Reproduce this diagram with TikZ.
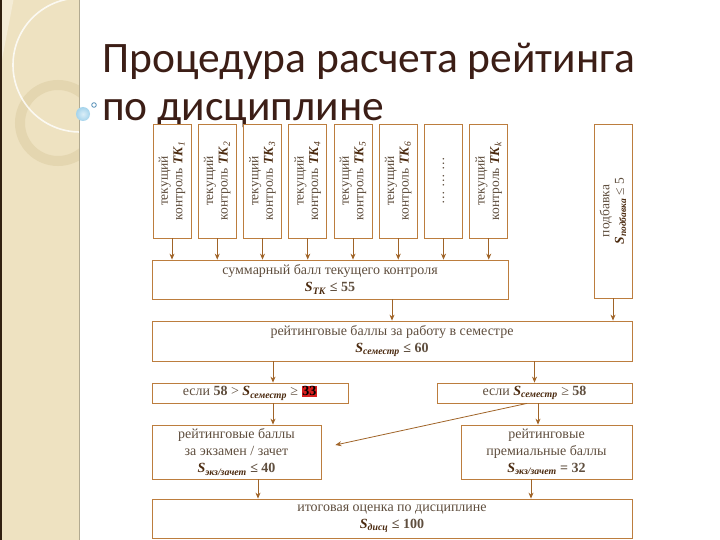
\documentclass[tikz,border=0pt]{standalone}
\usepackage{fontspec}
\setmainfont{Liberation Serif}
\newfontfamily\titlefont{Carlito}
\usetikzlibrary{arrows.meta,calc}
\definecolor{boxc}{RGB}{188,125,62}
\definecolor{arrc}{RGB}{160,100,40}
\definecolor{txtc}{RGB}{95,78,62}
\definecolor{sc}{RGB}{75,42,15}
\definecolor{redc}{RGB}{215,30,30}
\definecolor{panel}{RGB}{238,226,193}
\definecolor{panellight}{RGB}{244,236,214}
\definecolor{ringc}{RGB}{228,214,176}
\definecolor{titlec}{RGB}{60,30,22}
\definecolor{dotc}{RGB}{165,212,236}
\definecolor{dotline}{RGB}{80,140,180}
\newcommand\Sv[1]{{\color{sc}\textbf{\textit{S}}\textsubscript{\textbf{\textit{#1}}}}}
\newcommand\TKv[1]{{\color{sc}\textbf{\textit{TK}}\textsubscript{\textit{#1}}}}
\tikzset{
  box/.style={draw=boxc, line width=0.8pt, fill=white, inner sep=1pt, align=center,
    font=\fontsize{14}{17}\selectfont, text=txtc},
  vbox/.style={box, rotate=90, minimum width=114pt, minimum height=38pt,
    font=\fontsize{13.5}{14.5}\selectfont},
  arr/.style={draw=arrc, line width=0.8pt, -{Stealth[length=6pt,width=5pt]}}
}
\begin{document}
\begin{tikzpicture}[x=1pt,y=-1pt]
\useasboundingbox (0,0) rectangle (720,540);
\fill[white] (0,0) rectangle (720,540);
% left decorative panel
\begin{scope}
\clip (0,0) rectangle (79,540);
\fill[panel] (0,0) rectangle (79,540);
\fill[panellight] (0,0) -- (70,0) arc[start angle=105, end angle=165, radius=67] -- (0,70) -- cycle;
\draw[ringc, line width=10pt] (58,123) circle[radius=38];
\draw[white, opacity=0.8, line width=1.6pt] (80,65) circle[radius=67];
\end{scope}
\fill[black!75!brown] (0,0) rectangle (1.5,540);
\draw[black!25!panel, line width=1pt] (79,0) -- (79,540);
\shade[inner color=white!60!dotc, outer color=dotc] (83,114) circle[radius=7];
\draw[dotline, line width=0.8pt] (94,105) circle[radius=2.3];
% title
\node[anchor=base west, inner sep=0, font=\titlefont\fontsize{43.5}{43.5}\selectfont, text=titlec] (t1) at (102,73) {Процедура расчета рейтинга};
\node[anchor=base west, inner sep=0, font=\titlefont\fontsize{43.5}{43.5}\selectfont, text=titlec] (t2) at (102,121) {по дисциплине};
% top row
\node[vbox] (tk1) at (172,181) {текущий\\контроль \TKv{1}};
\node[vbox] (tk2) at (217.25,181) {текущий\\контроль \TKv{2}};
\node[vbox] (tk3) at (262.5,181) {текущий\\контроль \TKv{3}};
\node[vbox] (tk4) at (307.75,181) {текущий\\контроль \TKv{4}};
\node[vbox] (tk5) at (353,181) {текущий\\контроль \TKv{5}};
\node[vbox] (tk6) at (398.25,181) {текущий\\контроль \TKv{6}};
\node[vbox] (tkd) at (443.5,181) {… … …};
\node[vbox] (tkk) at (488.75,181) {текущий\\контроль \TKv{k}};
\node[vbox, minimum width=174pt] (podb) at (613,211) {подбавка\\\Sv{подбавка} ≤ 5};
% middle
\node[box, minimum width=356pt, minimum height=39pt] (sum) at (330,279.5) {суммарный балл текущего контроля\\\textbf{\Sv{TK} ≤ 55}};
\node[box, minimum width=480pt, minimum height=40pt] (sem) at (392,341) {рейтинговые баллы за работу в семестре\\\textbf{\Sv{семестр} ≤ 60}};
\node[box, minimum width=196pt, minimum height=20pt] (condL) at (250,393) {если \textbf{58} > \Sv{семестр} ≥ {\setlength{\fboxsep}{0.8pt}\colorbox{redc}{\textbf{\color{black}33}}}};
\node[box, minimum width=195pt, minimum height=20pt] (condR) at (534.5,393) {если \Sv{семестр} ≥ \textbf{58}};
\node[box, minimum width=169pt, minimum height=54pt] (exam) at (236.5,452) {рейтинговые баллы\\за экзамен / зачет\\\textbf{\Sv{экз/зачет} ≤ 40}};
\node[box, minimum width=171pt, minimum height=54pt] (prem) at (546.5,452) {рейтинговые\\премиальные баллы\\\textbf{\Sv{экз/зачет} = 32}};
\node[box, minimum width=480pt, minimum height=39pt] (final) at (392,518.5) {итоговая оценка по дисциплине\\\textbf{\Sv{дисц} ≤ 100}};
% arrows
\foreach \n in {tk1,tk2,tk3,tk4,tk5,tk6,tkd,tkk}
  \draw[arr] (\n.west) -- (\n.west |- sum.north);
\draw[arr] (sum.south -| sem.north) -- (sem.north);
\draw[arr] (podb.west) -- (podb.west |- sem.north);
\draw[arr] ([xshift=23pt]condL.north |- sem.south) -- ([xshift=23pt]condL.north);
\draw[arr] (condR.north |- sem.south) -- (condR.north);
\draw[arr] ([xshift=23pt]condL.south) -- ([xshift=23pt]condL.south |- exam.north);
\draw[arr] ([xshift=3.5pt]condR.south) -- ([xshift=3.5pt]condR.south |- prem.north);
\coordinate (dEnd) at ([xshift=14pt,yshift=7pt]exam.east);
\draw[arr] ([xshift=-7.5pt]condR.south) -- (dEnd);
\draw[arr] ([xshift=21.5pt]exam.south) -- ([xshift=21.5pt]exam.south |- final.north);
\draw[arr] ([xshift=-15.5pt]prem.south) -- ([xshift=-15.5pt]prem.south |- final.north);
\end{tikzpicture}
\end{document}
